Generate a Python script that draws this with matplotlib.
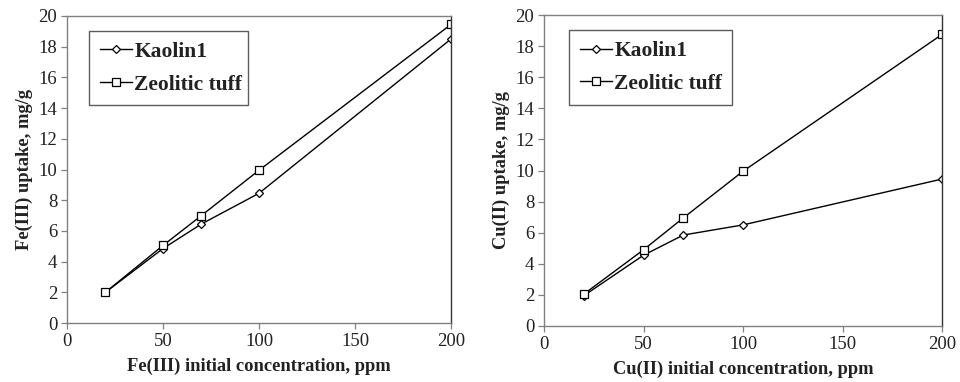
import matplotlib
matplotlib.use("Agg")
import matplotlib.pyplot as plt

plt.rcParams['font.family'] = ['Liberation Serif', 'DejaVu Serif']

conc = [20, 50, 70, 100, 200]

fe_kaolin = [2.0, 4.85, 6.45, 8.45, 18.5]
fe_zeolite = [2.0, 5.05, 7.0, 9.95, 19.45]

cu_kaolin = [1.95, 4.55, 5.85, 6.5, 9.45]
cu_zeolite = [2.05, 4.9, 6.95, 9.95, 18.75]

series_names = ["Kaolin1", "Zeolitic tuff"]
x_labels = ["Fe(III) initial concentration, ppm", "Cu(II) initial concentration, ppm"]
y_labels = ["Fe(III) uptake, mg/g", "Cu(II) uptake, mg/g"]
x_ticks = [0, 50, 100, 150, 200]
y_ticks = [0, 2, 4, 6, 8, 10, 12, 14, 16, 18, 20]

W, H = 960, 382
fig = plt.figure(figsize=(W / 100, H / 100), dpi=100)

panels = [
    (fe_kaolin, fe_zeolite, (67, 16, 451, 323), (89, 33, 248, 103)),
    (cu_kaolin, cu_zeolite, (544, 15, 942, 326), (569, 30, 732, 105)),
]

for i, (k, z, box, lbox) in enumerate(panels):
    x0, y0, x1, y1 = box
    ax = fig.add_axes([x0 / W, 1 - y1 / H, (x1 - x0) / W, (y1 - y0) / H])
    ax.plot(conc, k, color='black', lw=1.0, marker='D', ms=4, mfc='white',
            mec='black', mew=0.9, label=series_names[0])
    ax.plot(conc, z, color='black', lw=1.0, marker='s', ms=5.5, mfc='white',
            mec='black', mew=0.9, label=series_names[1])
    ax.set_xlim(0, 200)
    ax.set_ylim(0, 20)
    ax.set_xticks(x_ticks)
    ax.set_yticks(y_ticks)
    ax.tick_params(direction='out', length=4, width=0.9, labelsize=13.5,
                   color='#808080', labelcolor='#222222', pad=3)
    for s in ax.spines.values():
        s.set_color('#808080')
        s.set_linewidth(1.0)
    ax.spines['right'].set_color('#333333')
    ax.set_xlabel(x_labels[i], fontsize=13.3, fontweight='bold', labelpad=6,
                  color='#222222')
    ax.set_ylabel(y_labels[i], fontsize=13.3, fontweight='bold', labelpad=4,
                  color='#222222')

    lx0, ly0, lx1, ly1 = lbox
    bb = ((lx0 - x0) / (x1 - x0), 1 - (ly1 - y0) / (y1 - y0),
          (lx1 - lx0) / (x1 - x0), (ly1 - ly0) / (y1 - y0))
    leg = ax.legend(loc='center', bbox_to_anchor=bb, mode='expand',
                    prop={'size': 15.5, 'weight': 'bold'}, frameon=True,
                    fancybox=False, edgecolor='#333333', handlelength=1.5,
                    handletextpad=0.1, labelspacing=0.6, borderpad=0.5,
                    borderaxespad=0)
    leg.get_frame().set_linewidth(1.0)
    for t in leg.get_texts():
        t.set_color('#222222')

fig.savefig("out.png", dpi=100, facecolor='white')
